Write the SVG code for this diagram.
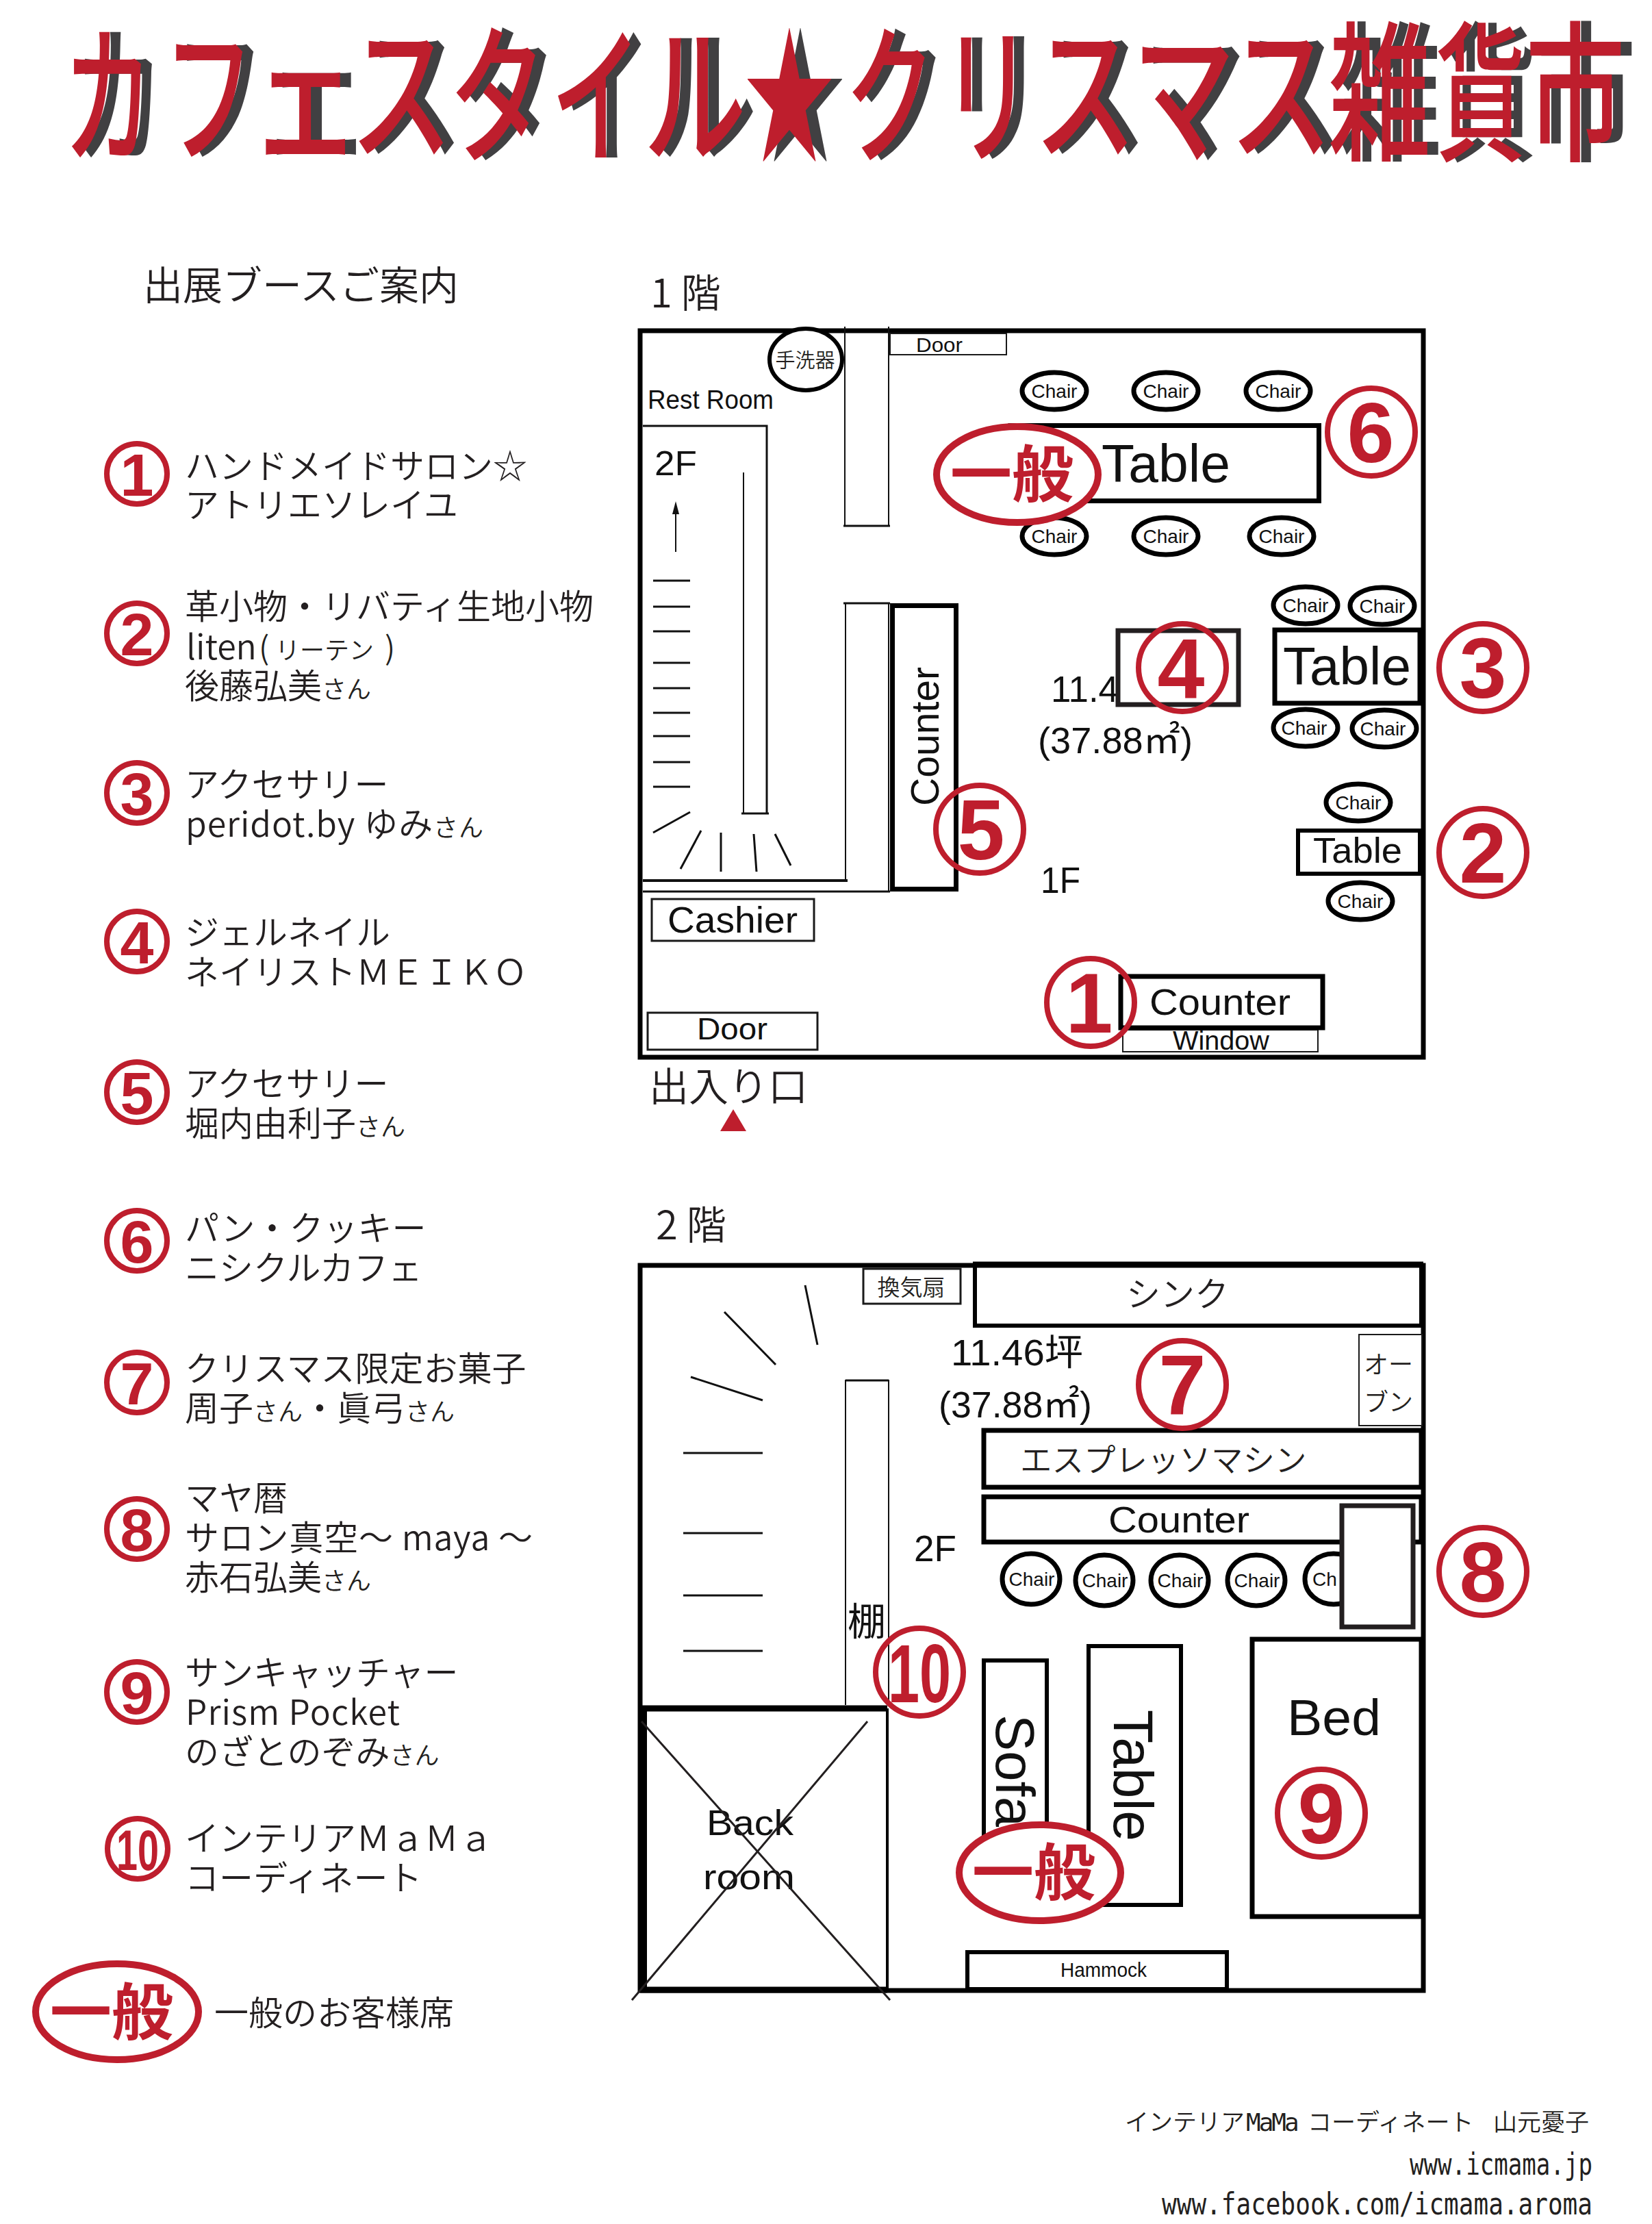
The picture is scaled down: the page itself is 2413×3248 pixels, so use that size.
<svg xmlns="http://www.w3.org/2000/svg" xmlns:xlink="http://www.w3.org/1999/xlink" width="2413" height="3248" viewBox="0 0 2413 3248">
<style>
text{font-family:"Liberation Sans","Noto Sans CJK JP",sans-serif;fill:#111}
.jp{font-family:"Noto Sans CJK JP",sans-serif;font-weight:350;fill:#231f20}
.leg{font-size:50px}
.sm{font-size:36px}
.tt{font-family:"Noto Sans CJK JP",sans-serif;font-weight:500;font-size:220px;text-anchor:middle;fill:inherit}
.num{font-family:"Liberation Sans",sans-serif;font-weight:700;fill:#be1e2d;text-anchor:middle}
.ring{fill:none;stroke:#be1e2d;stroke-width:8}
.gen{fill:#fff;stroke:#be1e2d;stroke-width:10}
.gent{font-family:"Noto Sans CJK JP",sans-serif;font-weight:700;font-size:90px;fill:#be1e2d;text-anchor:middle}
.w7{fill:#fff;stroke:#000;stroke-width:7}
.w6{fill:#fff;stroke:#000;stroke-width:6}
.w3{fill:#fff;stroke:#1a1a1a;stroke-width:3}
.w2{fill:#fff;stroke:#1a1a1a;stroke-width:2}
.ln{fill:none;stroke:#111;stroke-width:3}
.lt{fill:none;stroke:#111;stroke-width:2}
.ch{fill:#fff;stroke:#000;stroke-width:7}
.cht{font-size:28px;text-anchor:middle}
.f{font-size:53px}
.mono{font-family:"DejaVu Sans Mono",monospace;fill:#231f20}
</style>
<rect width="2413" height="3248" fill="#fff"/>

<use xlink:href="#title" href="#title" x="16" fill="#414042"/>
<g fill="#be1e2d"><g id="title">
<text class="tt" transform="translate(158,222) scale(.6,1)">カ</text>
<text class="tt" transform="translate(305,222) scale(.6,1)">フ</text>
<text class="tt" transform="translate(446,222) scale(.75,1)">ェ</text>
<text class="tt" transform="translate(586,218) scale(.68,1)">ス</text>
<text class="tt" transform="translate(727,222) scale(.65,1)">タ</text>
<text class="tt" transform="translate(871,222) scale(.6,1)">イ</text>
<text class="tt" transform="translate(1015,222) scale(.68,1)">ル</text>
<text class="tt" transform="translate(1153,222) scale(.6,1)">★</text>
<text class="tt" transform="translate(1300,222) scale(.6,1)">ク</text>
<text class="tt" transform="translate(1442,222) scale(.6,1)">リ</text>
<text class="tt" transform="translate(1585,218) scale(.68,1)">ス</text>
<text class="tt" transform="translate(1729,222) scale(.68,1)">マ</text>
<text class="tt" transform="translate(1871,218) scale(.68,1)">ス</text>
<text class="tt" transform="translate(2015,218) scale(.68,1)">雑</text>
<text class="tt" transform="translate(2163,218) scale(.6,1)">貨</text>
<text class="tt" transform="translate(2301,218) scale(.66,1)">市</text>
</g></g>

<text id="legend-title" class="jp" x="209" y="438" font-size="58">出展ブースご案内</text>

<g id="legend">
<g id="legend-1"><ellipse class="ring" cx="200" cy="692" rx="44" ry="44"/><text class="num" x="200" y="724" font-size="88">1</text><text class="jp leg" x="270" y="699">ハンドメイドサロン☆</text><text class="jp leg" x="270" y="756">アトリエソレイユ</text></g>
<g id="legend-2"><ellipse class="ring" cx="200" cy="925" rx="44" ry="44"/><text class="num" x="200" y="957" font-size="88">2</text><text class="jp leg" x="270" y="904">革小物・リバティ生地小物</text><text class="jp leg" x="272" y="963">liten<tspan x="378" font-size="46">(</tspan><tspan x="402" class="sm">リーテン</tspan><tspan x="562" font-size="46">)</tspan></text><text class="jp leg" x="270" y="1020">後藤弘美<tspan class="sm">さん</tspan></text></g>
<g id="legend-3"><ellipse class="ring" cx="200" cy="1158" rx="44" ry="44"/><text class="num" x="200" y="1190" font-size="88">3</text><text class="jp leg" x="270" y="1164">アクセサリー</text><text class="jp leg" x="271" y="1222" textLength="435" lengthAdjust="spacing">peridot.by ゆみ<tspan class="sm">さん</tspan></text></g>
<g id="legend-4"><ellipse class="ring" cx="200" cy="1375" rx="44" ry="44"/><text class="num" x="200" y="1407" font-size="88">4</text><text class="jp leg" x="270" y="1380">ジェルネイル</text><text class="jp leg" x="270" y="1438">ネイリストＭＥＩＫＯ</text></g>
<g id="legend-5"><ellipse class="ring" cx="200" cy="1595" rx="44" ry="44"/><text class="num" x="200" y="1627" font-size="88">5</text><text class="jp leg" x="270" y="1601">アクセサリー</text><text class="jp leg" x="270" y="1659">堀内由利子<tspan class="sm">さん</tspan></text></g>
<g id="legend-6"><ellipse class="ring" cx="200" cy="1812" rx="44" ry="44"/><text class="num" x="200" y="1844" font-size="88">6</text><text class="jp leg" x="270" y="1812">パン・クッキー</text><text class="jp leg" x="270" y="1870">ニシクルカフェ</text></g>
<g id="legend-7"><ellipse class="ring" cx="200" cy="2019" rx="44" ry="44"/><text class="num" x="200" y="2051" font-size="88">7</text><text class="jp leg" x="270" y="2017">クリスマス限定お菓子</text><text class="jp leg" x="270" y="2075">周子<tspan class="sm">さん</tspan>・眞弓<tspan class="sm">さん</tspan></text></g>
<g id="legend-8"><ellipse class="ring" cx="200" cy="2233" rx="44" ry="44"/><text class="num" x="200" y="2265" font-size="88">8</text><text class="jp leg" x="270" y="2206">マヤ暦</text><text class="jp leg" x="270" y="2264" textLength="508" lengthAdjust="spacing">サロン真空～ maya ～</text><text class="jp leg" x="270" y="2322">赤石弘美<tspan class="sm">さん</tspan></text></g>
<g id="legend-9"><ellipse class="ring" cx="200" cy="2471" rx="44" ry="44"/><text class="num" x="200" y="2503" font-size="88">9</text><text class="jp leg" x="270" y="2461">サンキャッチャー</text><text class="jp leg" x="271" y="2519" textLength="313" lengthAdjust="spacing">Prism Pocket</text><text class="jp leg" x="270" y="2577">のざとのぞみ<tspan class="sm">さん</tspan></text></g>
<g id="legend-10"><ellipse class="ring" cx="201" cy="2700" rx="44" ry="44"/><text class="num" x="201" y="2731" font-size="84" textLength="62" lengthAdjust="spacingAndGlyphs">10</text><text class="jp leg" x="270" y="2703">インテリアＭａＭａ</text><text class="jp leg" x="270" y="2761">コーディネート</text></g>
<g id="legend-general"><ellipse class="gen" cx="171" cy="2938" rx="119" ry="70"/><text class="gent" x="163" y="2971">一般</text><text class="jp leg" x="313" y="2958">一般のお客様席</text></g>
</g>

<text id="floor1-label" class="jp" x="950" y="449" font-size="58">1 階</text>
<g id="floor1">
<rect id="room1" x="935" y="483" width="1144" height="1061" fill="none" stroke="#000" stroke-width="7"/>
<g id="sink-1"><ellipse cx="1177" cy="525" rx="53" ry="45" fill="#fff" stroke="#000" stroke-width="6"/><text class="jp" x="1176" y="537" font-size="29" text-anchor="middle">手洗器</text></g>
<g id="door-top"><rect class="w2" x="1300" y="487" width="170" height="31"/><text x="1338" y="514" font-size="29" textLength="68" lengthAdjust="spacingAndGlyphs">Door</text></g>
<text x="946" y="597" font-size="38" textLength="184" lengthAdjust="spacingAndGlyphs">Rest Room</text>
<path class="lt" d="M1234 477V768M1298 477V768"/><path class="ln" d="M1232 768H1300"/>
<path class="ln" d="M1232 881H1300"/><path class="lt" d="M1235 881V1284M1298 881V1303"/>
<path d="M939 1286H1238" fill="none" stroke="#111" stroke-width="4"/><path class="ln" d="M939 1302H1300"/>
<path class="ln" d="M939 622H1120V1188"/><path class="lt" d="M1086 690V1188"/><path class="ln" d="M1083 1188H1123"/>
<text x="956" y="694" font-size="50" textLength="62" lengthAdjust="spacingAndGlyphs">2F</text>
<path d="M987 806V750" stroke="#111" stroke-width="2" fill="none"/><path d="M987 732L982 751H992Z" fill="#111"/>
<path class="ln" d="M954 848H1008M954 886H1008M954 922H1008M954 968H1008M954 1005H1008M954 1041H1008M954 1075H1008M954 1113H1008M954 1149H1008M954 1216L1008 1186M994 1269L1024 1213M1053 1273V1216M1105 1273L1101 1218M1155 1264L1132 1218"/>

<g id="t6"><rect class="w7" x="1476" y="621.5" width="450.5" height="110"/><text x="1609" y="704" font-size="78" textLength="188" lengthAdjust="spacingAndGlyphs">Table</text></g>
<g id="chairs-top">
<ellipse class="ch" cx="1540" cy="571" rx="47" ry="27"/><text class="cht" x="1540" y="581">Chair</text>
<ellipse class="ch" cx="1703" cy="571" rx="47" ry="27"/><text class="cht" x="1703" y="581">Chair</text>
<ellipse class="ch" cx="1867" cy="571" rx="47" ry="27"/><text class="cht" x="1867" y="581">Chair</text>
<ellipse class="ch" cx="1540" cy="783" rx="47" ry="27"/><text class="cht" x="1540" y="793">Chair</text>
<ellipse class="ch" cx="1703" cy="783" rx="47" ry="27"/><text class="cht" x="1703" y="793">Chair</text>
<ellipse class="ch" cx="1872" cy="783" rx="47" ry="27"/><text class="cht" x="1872" y="793">Chair</text>
<ellipse class="ch" cx="1907" cy="884" rx="47" ry="27"/><text class="cht" x="1907" y="894">Chair</text>
<ellipse class="ch" cx="2019" cy="885" rx="47" ry="27"/><text class="cht" x="2019" y="895">Chair</text>
<ellipse class="ch" cx="1907" cy="1063" rx="47" ry="27"/><text class="cht" x="1905" y="1073">Chair</text>
<ellipse class="ch" cx="2022" cy="1064" rx="47" ry="27"/><text class="cht" x="2020" y="1074">Chair</text>
<ellipse class="ch" cx="1984" cy="1172" rx="47" ry="27"/><text class="cht" x="1984" y="1182">Chair</text>
<ellipse class="ch" cx="1987" cy="1316" rx="47" ry="27"/><text class="cht" x="1987" y="1326">Chair</text>
</g>
<g id="gen1"><ellipse class="gen" cx="1486" cy="693" rx="118" ry="70"/><text class="gent" x="1478" y="725">一般</text></g>
<text class="f" x="1535" y="1025" textLength="99" lengthAdjust="spacingAndGlyphs">11.4</text>
<text class="f" x="1516" y="1100" textLength="226" lengthAdjust="spacingAndGlyphs">(37.88㎡)</text>
<rect id="t4" x="1633" y="921" width="176" height="108" fill="#fff" stroke="#231f20" stroke-width="7"/>
<g id="t3"><rect class="w7" x="1862" y="920" width="212" height="107"/><text x="1874" y="1000" font-size="78" textLength="187" lengthAdjust="spacingAndGlyphs">Table</text></g>
<g id="t2"><rect class="w6" x="1896" y="1213" width="178" height="63"/><text x="1918" y="1260" font-size="52" textLength="130" lengthAdjust="spacingAndGlyphs">Table</text></g>
<text class="f" x="1520" y="1304" textLength="58" lengthAdjust="spacingAndGlyphs">1F</text>
<g id="cnt-v"><rect class="w7" x="1303.5" y="884.5" width="93" height="414"/><text transform="translate(1371,1177) rotate(-90)" font-size="58" textLength="203" lengthAdjust="spacingAndGlyphs">Counter</text></g>
<g id="cashier"><rect class="w3" x="952" y="1313" width="237" height="61"/><text x="975" y="1362" font-size="53" textLength="190" lengthAdjust="spacingAndGlyphs">Cashier</text></g>
<g id="door-main"><rect class="w3" x="946" y="1479" width="248" height="54"/><text x="1018" y="1518" font-size="44" textLength="103" lengthAdjust="spacingAndGlyphs">Door</text></g>
<g id="window"><rect class="w2" x="1640" y="1504" width="285" height="32"/><text x="1713" y="1533" font-size="38" textLength="141" lengthAdjust="spacingAndGlyphs">Window</text></g>
<g id="cnt-1"><rect class="w7" x="1637" y="1426" width="295" height="75"/><text x="1679" y="1482" font-size="53" textLength="206" lengthAdjust="spacingAndGlyphs">Counter</text></g>
<text class="jp" x="948" y="1608" font-size="58">出入り口</text>
<path id="entry" d="M1071 1620L1090 1652H1052Z" fill="#be1e2d"/>
</g>

<g id="rings-1">
<g id="n1"><ellipse class="ring" cx="1593" cy="1464" rx="64" ry="64"/><text class="num" x="1591" y="1508" font-size="124">1</text></g>
<g id="n2"><ellipse class="ring" cx="2166" cy="1245" rx="64" ry="64"/><text class="num" x="2166" y="1289" font-size="124">2</text></g>
<g id="n3"><ellipse class="ring" cx="2166" cy="975" rx="64" ry="64"/><text class="num" x="2166" y="1019" font-size="124">3</text></g>
<g id="n4"><ellipse class="ring" cx="1727" cy="975" rx="64" ry="64"/><text class="num" x="1725" y="1019" font-size="124">4</text></g>
<g id="n5"><ellipse class="ring" cx="1431" cy="1211" rx="64" ry="64"/><text class="num" x="1433" y="1255" font-size="124">5</text></g>
<g id="n6"><ellipse class="ring" cx="2003" cy="631" rx="64" ry="64"/><text class="num" x="2002" y="675" font-size="124">6</text></g>
</g>

<text id="floor2-label" class="jp" x="958" y="1810" font-size="58">2 階</text>
<g id="floor2">
<rect id="room2" x="935" y="1848" width="1144" height="1059" fill="none" stroke="#000" stroke-width="7"/>
<g id="fan"><rect class="w3" x="1261" y="1853" width="142" height="51"/><text class="jp" x="1331" y="1892" font-size="33" text-anchor="middle">換気扇</text></g>
<g id="sink"><path d="M1424 1936V1848H2076V1936Z" fill="#fff" stroke="#000" stroke-width="6"/><path d="M1421 1847H2079" stroke="#000" stroke-width="9"/><text class="jp" x="1720" y="1908" font-size="50" text-anchor="middle">シンク</text></g>
<g id="oven"><rect class="w2" x="1985" y="1949" width="92" height="133"/><text class="jp" x="1992" y="2006" font-size="36">オー</text><text class="jp" x="1992" y="2061" font-size="36">ブン</text></g>
<text class="f" x="1389" y="1994" textLength="193" lengthAdjust="spacingAndGlyphs">11.46坪</text>
<text class="f" x="1371" y="2070" textLength="224" lengthAdjust="spacingAndGlyphs">(37.88㎡)</text>
<g id="espresso"><rect class="w7" x="1437" y="2089" width="639" height="83"/><text class="jp" x="1490" y="2149" font-size="46.5">エスプレッソマシン</text></g>
<g id="counter-2"><rect class="w7" x="1437" y="2186" width="639" height="66"/><text x="1619" y="2238" font-size="53" textLength="206" lengthAdjust="spacingAndGlyphs">Counter</text></g>
<text class="f" x="1335" y="2280" textLength="62" lengthAdjust="spacingAndGlyphs">2F</text>
<g id="chairs-2">
<ellipse class="ch" cx="1506" cy="2306" rx="42" ry="37"/><text class="cht" x="1507" y="2316">Chair</text>
<ellipse class="ch" cx="1613" cy="2308" rx="42" ry="37"/><text class="cht" x="1614" y="2318">Chair</text>
<ellipse class="ch" cx="1723" cy="2308" rx="42" ry="37"/><text class="cht" x="1724" y="2318">Chair</text>
<ellipse class="ch" cx="1835" cy="2308" rx="42" ry="37"/><text class="cht" x="1836" y="2318">Chair</text>
<ellipse class="ch" cx="1948" cy="2306" rx="42" ry="37"/><text x="1917" y="2316" font-size="28">Ch</text>
</g>
<rect id="box8" x="1960" y="2199" width="104" height="177" fill="#fff" stroke="#231f20" stroke-width="7"/>
<path class="lt" d="M1235 2490V2016H1298V2490"/><path class="ln" d="M1235 2016H1298"/>
<text id="shelf" x="1238" y="2388" font-size="56" font-family="Noto Sans CJK JP" fill="#231f20" textLength="56" lengthAdjust="spacingAndGlyphs">棚</text>
<path class="ln" d="M998 2122H1114M998 2239H1114M998 2330H1114M998 2411H1114M1009 2011L1114 2045M1058 1916L1133 1993M1176 1877L1194 1964"/>
<g id="backroom"><path d="M940 2495H1294V2906H940Z" fill="#fff" stroke="none"/><path d="M935 2495H1296M935 2906H1296" stroke="#000" stroke-width="9"/><path d="M940 2495V2906" stroke="#000" stroke-width="10"/><path d="M1296 2495V2906" stroke="#000" stroke-width="4"/>
<text x="1032" y="2680" font-size="52" textLength="127" lengthAdjust="spacingAndGlyphs">Back</text><text x="1027" y="2759" font-size="52" textLength="134" lengthAdjust="spacingAndGlyphs">room</text>
<path d="M937 2514L1300 2921M1267 2514L923 2921" stroke="#231f20" stroke-width="3" fill="none"/></g>
<g id="sofa"><rect class="w6" x="1437" y="2425" width="92" height="280"/><text transform="translate(1455,2504) rotate(90)" font-size="80" textLength="164" lengthAdjust="spacingAndGlyphs">Sofa</text></g>
<g id="table-2"><rect class="w6" x="1590" y="2404" width="135" height="378"/><text transform="translate(1627,2497) rotate(90)" font-size="82" textLength="192" lengthAdjust="spacingAndGlyphs">Table</text></g>
<g id="bed"><rect class="w7" x="1829" y="2394" width="247" height="405"/><text x="1880" y="2534" font-size="75" textLength="137" lengthAdjust="spacingAndGlyphs">Bed</text></g>
<g id="hammock"><rect class="w6" x="1413" y="2851" width="379" height="54"/><text x="1549" y="2887" font-size="30" textLength="126" lengthAdjust="spacingAndGlyphs">Hammock</text></g>
<g id="gen2"><ellipse class="gen" cx="1519" cy="2735" rx="118" ry="70"/><text class="gent" x="1510" y="2767">一般</text></g>
</g>
<g id="rings-2">
<g id="n7"><ellipse class="ring" cx="1727" cy="2022" rx="64" ry="64"/><text class="num" x="1727" y="2066" font-size="124">7</text></g>
<g id="n8"><ellipse class="ring" cx="2166" cy="2295" rx="64" ry="64"/><text class="num" x="2166" y="2339" font-size="124">8</text></g>
<g id="n9"><ellipse class="ring" cx="1930" cy="2648" rx="64" ry="64"/><text class="num" x="1930" y="2692" font-size="124">9</text></g>
<g id="n10"><ellipse class="ring" cx="1343" cy="2442" rx="64" ry="64"/><text class="num" x="1343" y="2486" font-size="120" textLength="92" lengthAdjust="spacingAndGlyphs">10</text></g>
</g>
<g id="footer">
<text class="jp" y="3112" font-size="35"><tspan x="1643">インテリア</tspan><tspan class="mono" x="1820" font-size="36" letter-spacing="-3">MaMa</tspan><tspan x="1910">コーディネート</tspan><tspan x="2181">山元憂子</tspan></text>
<text class="mono" x="2059" y="3176" font-size="44" textLength="267" lengthAdjust="spacingAndGlyphs">www.icmama.jp</text>
<text class="mono" x="1697" y="3234" font-size="44" textLength="629" lengthAdjust="spacingAndGlyphs">www.facebook.com/icmama.aroma</text>
</g>
</svg>
